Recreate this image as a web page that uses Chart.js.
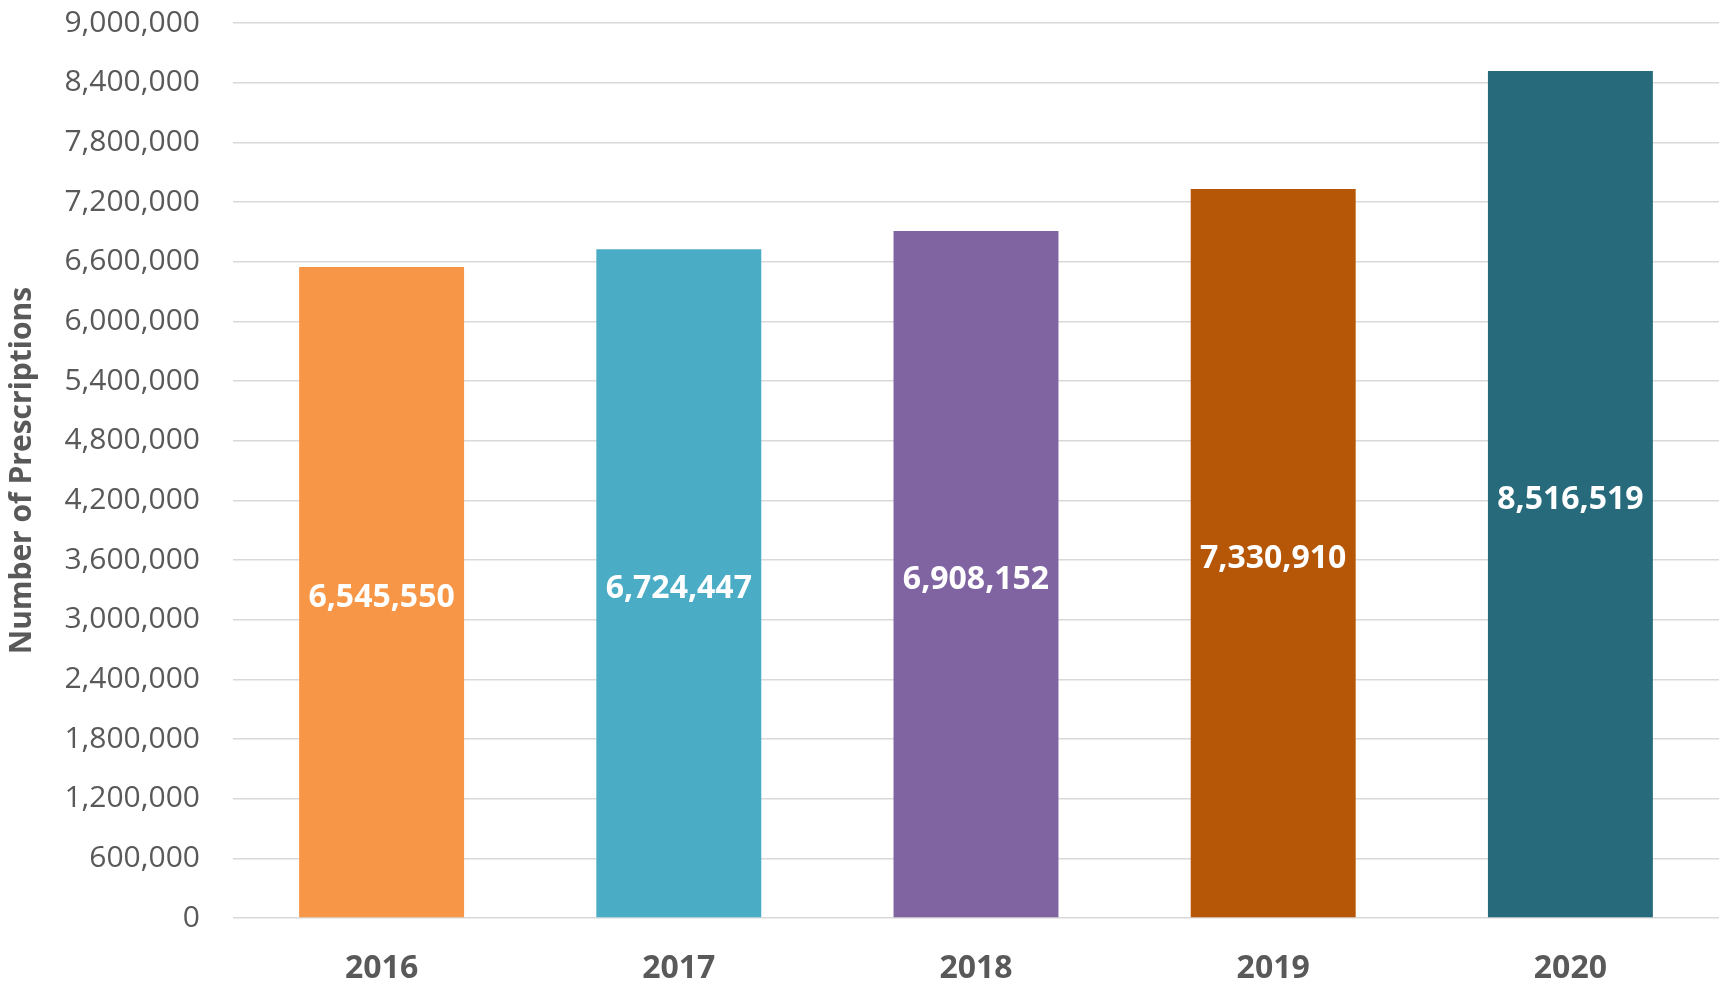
<!DOCTYPE html>
<html lang="en">
<head>
    <meta charset="UTF-8">
    <title>Number of Prescriptions 2016-2020</title>
    <script src="https://cdn.jsdelivr.net/npm/chart.js"></script>
    <style>
        html, body { margin: 0; padding: 0; background: #fff; }
        #wrap { width: 1719px; height: 988px; }
    </style>
</head>
<body>
    <div id="wrap"><canvas id="grafico"></canvas></div>

    <script>
        // Data
        const years = ['2016', '2017', '2018', '2019', '2020'];
        const prescriptions = [6545550, 6724447, 6908152, 7330910, 8516519];
        const barColors = ['#F79646', '#4BACC6', '#8064A2', '#B65708', '#276A7C'];
        const yMin = 0;
        const yMax = 9000000;
        const yStep = 600000;

        const fuente = "'Open Sans', 'Noto Sans', sans-serif";
        const gris = '#595959';

        // Labels in the middle of each bar
        const etiquetasCentro = {
            id: 'etiquetasCentro',
            afterDatasetsDraw(chart) {
                const ctx = chart.ctx;
                const meta = chart.getDatasetMeta(0);
                ctx.save();
                ctx.fillStyle = '#FFFFFF';
                ctx.font = 'bold 32px ' + fuente;
                ctx.textAlign = 'center';
                ctx.textBaseline = 'middle';
                meta.data.forEach((bar, i) => {
                    const y = (bar.y + bar.base) / 2 + 6;
                    ctx.fillText(prescriptions[i].toLocaleString('en-US'), bar.x, y);
                });
                ctx.restore();
            }
        };

        new Chart(document.getElementById('grafico'), {
            type: 'bar',
            data: {
                labels: years,
                datasets: [{
                    label: 'Number of Prescriptions',
                    data: prescriptions,
                    backgroundColor: barColors,
                    borderWidth: 0,
                    barPercentage: 0.555,
                    categoryPercentage: 1
                }]
            },
            options: {
                responsive: true,
                maintainAspectRatio: false,
                animation: false,
                layout: { padding: { top: 0, right: 0, bottom: 0, left: 0 } },
                plugins: {
                    legend: { display: false },
                    tooltip: { enabled: false }
                },
                scales: {
                    x: {
                        grid: { display: false },
                        border: { display: false },
                        ticks: {
                            color: gris,
                            padding: 24,
                            font: { family: fuente, size: 32, weight: 'bold' }
                        },
                        afterFit(scale) { scale.height = 70; }
                    },
                    y: {
                        min: yMin,
                        max: yMax,
                        border: { display: false },
                        // invisible tick marks keep the labels away from the plot
                        grid: { color: '#D9D9D9', lineWidth: 1.5, drawTicks: true, tickLength: 28, tickColor: 'rgba(0,0,0,0)' },
                        ticks: {
                            stepSize: yStep,
                            color: gris,
                            padding: 5,
                            font: { family: fuente, size: 30 },
                            callback: v => v.toLocaleString('en-US')
                        },
                        title: {
                            display: true,
                            text: 'Number of Prescriptions',
                            color: gris,
                            padding: { top: 4, bottom: 0 },
                            font: { family: fuente, size: 30, weight: 'bold' }
                        },
                        afterFit(scale) { scale.width = 233; }
                    }
                }
            },
            plugins: [etiquetasCentro]
        });
    </script>
</body>
</html>
